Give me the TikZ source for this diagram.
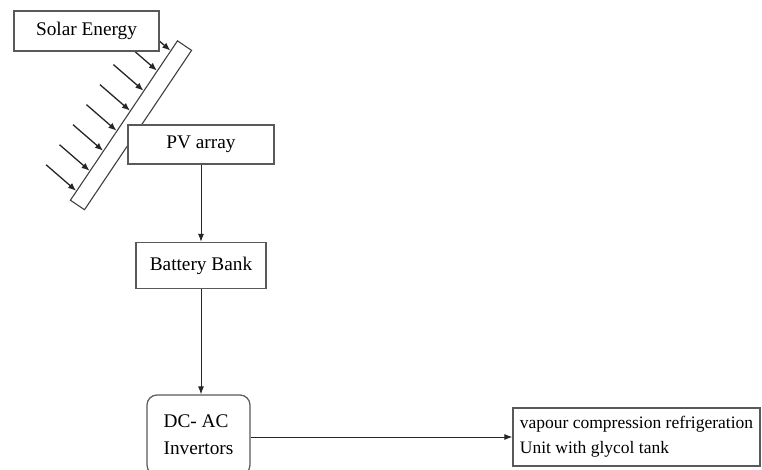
\documentclass[tikz,border=0pt]{standalone}
\usepackage{fontspec}
\setmainfont{Liberation Serif}
\newfontfamily\timesfont{Liberation Serif}
\usetikzlibrary{arrows.meta,calc}

\begin{document}
\begin{tikzpicture}[x=1pt, y=-1pt,
    box/.style = {draw=black!65, line width=1.2pt, fill=white, inner sep=0pt, font=\timesfont\fontsize{19.3}{27}\selectfont},
    link/.style = {draw=black!85, line width=1pt, -{Latex[length=8pt,width=6pt]}},
    ray/.style = {draw=black!85, line width=1.3pt, -{Latex[length=8pt,width=6.5pt]}}]
    \clip (0,0) rectangle (762,470);
    % panel with the sun rays
    \node[draw=black!75, line width=1.1pt, fill=white, rotate=56.1, minimum width=192, minimum height=17, inner sep=0pt] (panel) at (131,125.3) {};
    \foreach \i in {0,...,7} {
        \coordinate (r\i) at ($(panel.north west)!{0.06+0.125*\i}!(panel.north east)$);
        \coordinate (s\i) at ($(r\i)+(-30,-26)$);
        \draw[ray] (s\i) -- (r\i);
    }
    \node[box, minimum width=145, minimum height=40] (sun) at (86.5,31) {Solar Energy};
    \node[box, minimum width=146, minimum height=39] (pv) at (201,144.5) {PV array};
    \node[box, minimum width=130, minimum height=46] (bat) at (201,265.5) {Battery Bank};
    \node[box, rounded corners=10pt, minimum width=103, minimum height=80, align=left] (dc) at (198.5,435) {DC- AC\\Invertors};
    \node[box, minimum width=247, minimum height=58, align=left, font=\timesfont\fontsize{17.5}{25}\selectfont] (vap) at (636.5,437) {vapour compression refrigeration\\Unit with glycol tank};
    \draw[link] (pv.south) -- (bat.north);
    \draw[link] (bat.south) -- (bat.south |- dc.north);
    \draw[link] (dc.east |- vap.west) -- (vap.west);
\end{tikzpicture}
\end{document}
